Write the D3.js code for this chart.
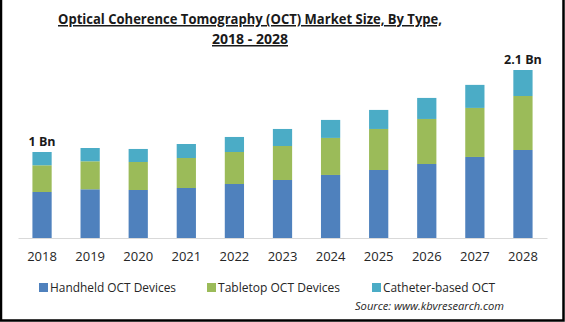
<!DOCTYPE html>
<html><head><meta charset="utf-8">
<script src="https://cdn.jsdelivr.net/npm/d3@7"></script>
<style>html,body{margin:0;padding:0;background:#fff;}svg{display:block;}</style>
</head><body>
<svg id="c" width="565" height="322"></svg>
<script>
const years = ["2018","2019","2020","2021","2022","2023","2024","2025","2026","2027","2028"];
const handheld = [575,609,600,625,675,725,788,850,925,1013,1100];
const tabletop = [334,350,350,375,400,425,463,513,563,613,675];
const catheter = [166,166,163,175,188,213,225,238,263,288,325];
const seriesNames = ["Handheld OCT Devices","Tabletop OCT Devices","Catheter-based OCT"];
const colors = ["#4F81BD","#9BBB59","#4BACC6"];
const endLabels = [{year:"2018", text:"1 Bn"},{year:"2028", text:"2.1 Bn"}];

const svg = d3.select("#c");
const W = 565, H = 322;
svg.append("rect").attr("width",W).attr("height",H).attr("fill","#fff");

const table = years.map((y,i)=>({year:y, h:handheld[i], t:tabletop[i], c:catheter[i]}));
const stack = d3.stack().keys(["h","t","c"])(table);

const x = d3.scaleBand().domain(years).range([18,547]).paddingInner(0.6).paddingOuter(0.3);
const y = d3.scaleLinear().domain([0,2100]).range([238,70]);

// title
const title = svg.append("text").attr("x",250).attr("text-anchor","middle")
  .attr("font-family","Open Sans, sans-serif").attr("font-weight","bold").attr("font-size",15)
  .attr("fill","#1a1a1a").attr("text-decoration","underline");
title.append("tspan").attr("x",250).attr("y",24).text("Optical Coherence Tomography (OCT) Market Size, By Type,")
  .attr("textLength",384).attr("lengthAdjust","spacingAndGlyphs");
title.append("tspan").attr("x",250).attr("y",44).text("2018 - 2028")
  .attr("textLength",76).attr("lengthAdjust","spacingAndGlyphs");

// bars
svg.append("g").selectAll("g").data(stack).join("g").attr("fill",(d,i)=>colors[i])
  .selectAll("rect").data(d=>d).join("rect")
  .attr("x",d=>x(d.data.year)).attr("width",x.bandwidth())
  .attr("y",d=>y(d[1])).attr("height",d=>y(d[0])-y(d[1]));

// axis
const ax = svg.append("g").attr("transform","translate(0,238)")
  .call(d3.axisBottom(x).tickSize(0).tickPadding(14));
ax.select(".domain").attr("stroke","#d9d9d9").attr("stroke-width",1);
ax.selectAll("text").attr("font-family","Open Sans, sans-serif").attr("font-size",13).attr("fill","#262626");

// end labels
endLabels.forEach(l=>{
  const i = years.indexOf(l.year);
  const tot = handheld[i]+tabletop[i]+catheter[i];
  svg.append("text").attr("x",x(l.year)+x.bandwidth()/2).attr("y",y(tot)-6)
    .attr("text-anchor","middle").attr("font-family","Open Sans, sans-serif")
    .attr("font-weight","bold").attr("font-size",12.5).attr("fill","#1a1a1a").text(l.text);
});

// legend
const legX = [39,207,372];
const legW = [126,122,112];
const lg = svg.append("g");
seriesNames.forEach((n,i)=>{
  lg.append("rect").attr("x",legX[i]).attr("y",283).attr("width",9).attr("height",9).attr("fill",colors[i]);
  lg.append("text").attr("x",legX[i]+11).attr("y",292).attr("font-family","Open Sans, sans-serif")
    .attr("font-size",13).attr("fill","#262626").attr("textLength",legW[i]).attr("lengthAdjust","spacingAndGlyphs").text(n);
});

// source
svg.append("text").attr("x",355).attr("y",310)
  .attr("font-family","Open Sans, sans-serif").attr("font-style","italic").attr("font-size",11.5)
  .attr("fill","#262626").attr("textLength",149).attr("lengthAdjust","spacingAndGlyphs").text("Source:  www.kbvresearch.com");

// border
svg.append("path").attr("d",`M1,0 V${H-1.5} H${W-1.5} V0`).attr("fill","none").attr("stroke","#000").attr("stroke-width",2.5);
</script>
</body></html>
